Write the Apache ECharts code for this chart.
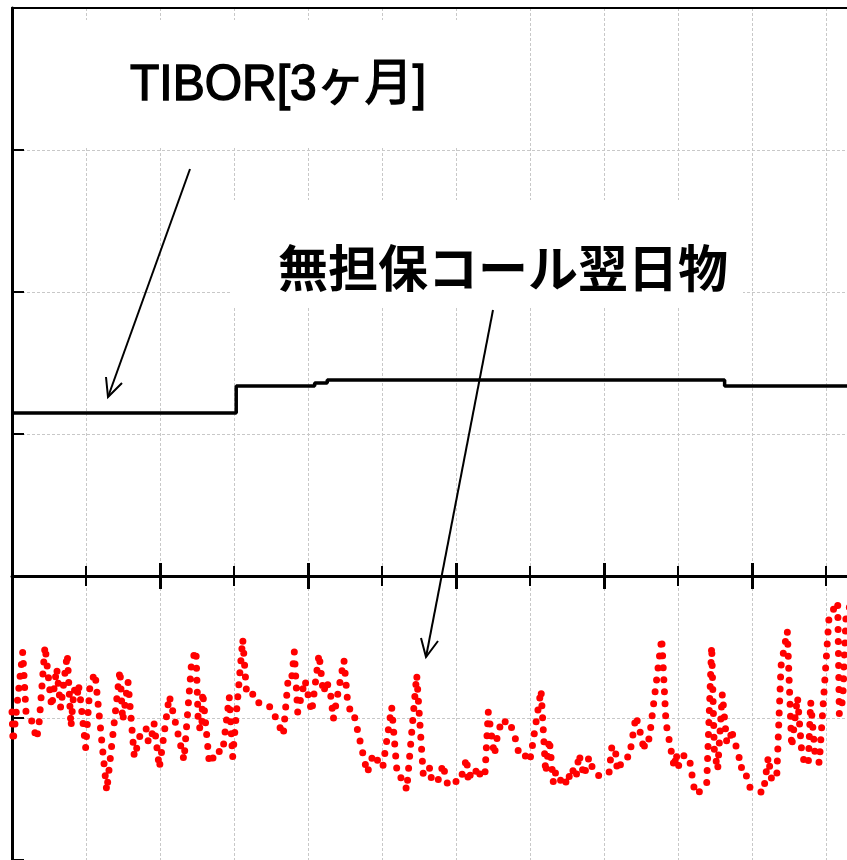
<!DOCTYPE html>
<html>
<head>
<meta charset="utf-8">
<script src="https://cdn.jsdelivr.net/npm/echarts@6/dist/echarts.min.js"></script>
<style>html,body{margin:0;padding:0;background:#fff;}#c{width:847px;height:860px;}</style>
</head>
<body>
<div id="c"></div>
<script>
// TIBOR 3M (step line): x in months from start, value in chart units
const tiborX = [0, 3.03, 4.09, 4.26, 9.63, 11.5];
const tiborY = [1.148, 1.338, 1.359, 1.380, 1.338, 1.338];

// Uncollateralized overnight call rate (drawn as dotted line)
const callX = [0,0.014,0.145,0.189,0.243,0.334,0.369,0.446,0.536,0.604,
0.658,0.747,0.797,0.838,0.882,0.896,0.919,0.996,1.054,1.122,
1.280,1.459,1.496,1.568,1.653,1.739,1.811,1.842,1.874,1.919,
1.946,1.991,2.126,2.149,2.324,2.428,2.486,2.518,2.564,2.577,
2.666,2.685,2.788,2.811,2.855,2.936,2.982,3.118,3.172,3.288,
3.342,3.500,3.666,3.734,3.780,3.815,3.861,3.959,4.050,4.149,
4.207,4.253,4.311,4.342,4.486,4.531,4.568,4.608,4.801,4.882,
5.009,5.131,5.207,5.288,5.334,5.469,5.558,5.612,5.649,5.672,
5.716,5.784,5.820,5.882,5.928,5.986,6.009,6.077,6.145,6.166,
6.212,6.257,6.301,6.334,6.392,6.436,6.518,6.572,6.649,6.689,
6.730,6.784,6.855,6.932,6.964,7.009,7.149,7.212,7.261,7.315,
7.338,7.392,7.464,7.496,7.564,7.622,7.662,7.730,7.797,7.865,
7.936,8.068,8.104,8.149,8.180,8.274,8.342,8.432,8.509,8.541,
8.554,8.612,8.780,8.838,8.950,8.973,9.004,9.036,9.108,9.153,
9.230,9.307,9.388,9.455,9.491,9.536,9.599,9.658,9.712,9.716,
9.824,9.838,9.892,9.964,10.085,10.153,10.220,10.266,10.334,10.392,
10.477,10.536,10.615,10.672,10.716,10.761,10.793,10.851,10.909,11.041,
11.158,11.180,11.226,11.270,11.351];
const callY = [-0.958,-1.169,-0.535,-0.958,-0.979,-1.148,-1.021,-0.493,-0.923,-0.648,
-0.930,-0.549,-1.063,-0.796,-0.852,-0.761,-0.838,-1.211,-0.768,-0.683,
-1.514,-0.662,-1.021,-0.746,-1.275,-1.106,-1.070,-1.169,-1.169,-1.035,
-1.035,-1.352,-0.845,-0.852,-1.296,-0.599,-0.521,-1.056,-1.085,-0.817,
-1.317,-1.282,-1.282,-1.197,-1.204,-0.852,-1.275,-0.444,-0.838,-0.831,
-0.901,-0.923,-1.120,-0.711,-0.718,-0.535,-0.958,-0.732,-0.958,-0.549,
-0.824,-0.739,-0.852,-1.007,-0.592,-0.859,-0.944,-0.944,-1.387,-1.254,
-1.352,-0.923,-1.408,-1.430,-1.507,-0.697,-1.401,-1.394,-1.345,-1.451,
-1.451,-1.423,-1.324,-1.458,-1.458,-1.430,-1.458,-1.408,-1.282,-1.451,
-1.366,-1.387,-1.345,-1.423,-1.387,-0.958,-1.261,-1.085,-1.007,-1.056,
-1.042,-1.106,-1.261,-1.275,-1.232,-1.275,-0.803,-1.387,-1.148,-1.451,
-1.380,-1.451,-1.408,-1.472,-1.352,-1.423,-1.254,-1.408,-1.275,-1.387,
-1.408,-1.387,-1.211,-1.197,-1.373,-1.275,-1.275,-0.986,-1.141,-1.232,
-1.141,-1.148,-0.437,-1.035,-1.352,-1.246,-1.345,-1.275,-1.261,-1.282,
-1.535,-1.514,-1.458,-0.493,-1.225,-1.366,-0.831,-1.169,-1.169,-1.077,
-1.268,-1.352,-1.345,-1.486,-1.514,-1.528,-1.275,-1.437,-1.415,-0.634,
-0.387,-1.204,-0.852,-1.239,-1.331,-1.317,-0.887,-1.246,-1.317,-0.289,
-0.183,-0.972,-0.873,-0.289,-0.169];

const labelTibor = 'TIBOR[3ヶ月]';
const labelCall = '無担保コール翌日物';

const chart = echarts.init(document.getElementById('c'), null, {renderer: 'canvas'});

const gridDash = {color: '#c8c8c8', width: 1, type: [3, 2]};
function xAx(pos, interval, tickLen, tickW, showLine, split) {
  return {
    type: 'value', min: 0, max: 12, interval: interval, position: pos,
    axisLine: {show: showLine, onZero: true, onZeroAxisIndex: 0, lineStyle: {color: '#000', width: 3}},
    axisTick: {show: true, length: tickLen, lineStyle: {color: '#000', width: tickW}},
    axisLabel: {show: false},
    splitLine: {show: split, lineStyle: gridDash}
  };
}

chart.setOption({
  animation: false,
  backgroundColor: '#fff',
  grid: {left: 12, top: 8, right: -53, bottom: 0, containLabel: false, outerBoundsMode: 'none'},
  xAxis: [
    xAx('bottom', 1, 10, 2, true, true),
    xAx('top', 1, 10, 2, false, false),
    xAx('bottom', 2, 13, 3, false, false),
    xAx('top', 2, 13, 3, false, false),
    {type: 'value', min: 0, max: 12, position: 'top',
     axisLine: {show: true, onZero: false, lineStyle: {color: '#000', width: 2}},
     axisTick: {show: false}, axisLabel: {show: false}, splitLine: {show: false}}
  ],
  yAxis: {
    type: 'value', min: -2, max: 4, interval: 1,
    axisLine: {show: true, onZero: false, lineStyle: {color: '#000', width: 3}},
    axisTick: {show: true, inside: true, length: 12, lineStyle: {color: '#000', width: 2}},
    axisLabel: {show: false},
    splitLine: {show: true, lineStyle: gridDash}
  },
  series: [
    {
      type: 'line', name: labelTibor, xAxisIndex: 0,
      data: tiborX.map((x, i) => [x, tiborY[i]]),
      step: 'end', showSymbol: false, silent: true, z: 3,
      lineStyle: {color: '#000', width: 3.5}
    },
    {
      type: 'line', name: labelCall, xAxisIndex: 0,
      data: callX.map((x, i) => [x, callY[i]]),
      showSymbol: false, silent: true, z: 4,
      lineStyle: {color: '#ff0000', width: 7, type: [0, 12], cap: 'round', join: 'round'}
    }
  ],
  graphic: [
    {type: 'rect', shape: {x: 40, y: 20, width: 460, height: 128}, style: {fill: '#fff'}, z: 50},
    {type: 'rect', shape: {x: 231, y: 200, width: 512, height: 106}, style: {fill: '#fff'}, z: 50},
    {type: 'text', x: 130, y: 86, z: 60, scaleY: 1.05,
     style: {text: labelTibor, font: '48px "Liberation Sans", "Noto Sans CJK JP", sans-serif', fill: '#000', stroke: '#000', lineWidth: 1.4, verticalAlign: 'middle', align: 'left'}},
    {type: 'text', x: 278, y: 268, z: 60,
     style: {text: labelCall, font: 'bold 50px "Noto Sans CJK JP", sans-serif', fill: '#000', verticalAlign: 'middle', align: 'left'}},
    {type: 'line', z: 60, shape: {x1: 190, y1: 169, x2: 108, y2: 397}, style: {stroke: '#000', lineWidth: 2}},
    {type: 'polyline', z: 60, shape: {points: [[122, 383], [108, 397], [106, 377]]}, style: {stroke: '#000', lineWidth: 2, fill: null}},
    {type: 'line', z: 60, shape: {x1: 493, y1: 310, x2: 426, y2: 657}, style: {stroke: '#000', lineWidth: 2}},
    {type: 'polyline', z: 60, shape: {points: [[438, 641], [426, 657], [421, 638]]}, style: {stroke: '#000', lineWidth: 2, fill: null}}
  ]
});
</script>
</body>
</html>
